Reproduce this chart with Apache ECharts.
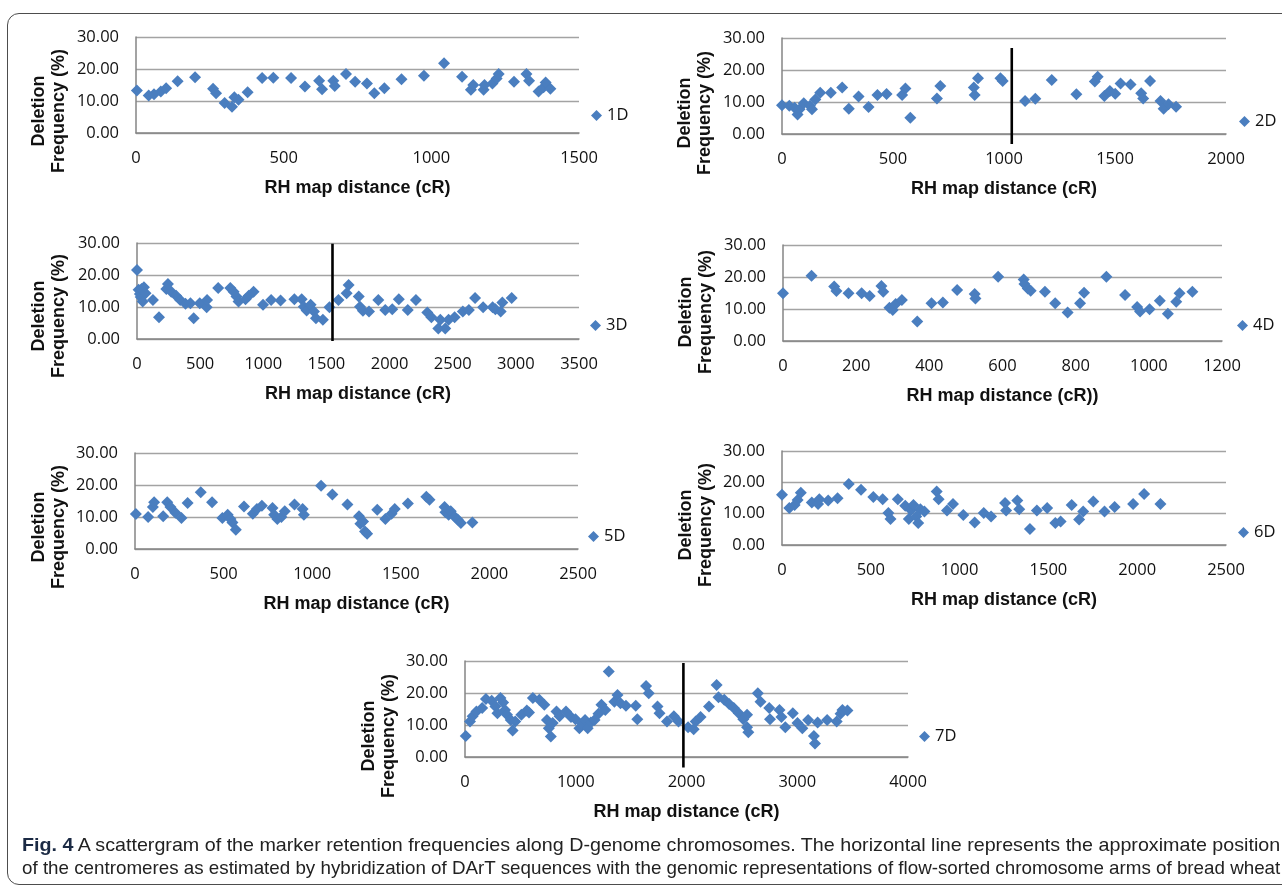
<!DOCTYPE html>
<html>
<head>
<meta charset="utf-8">
<script src="https://cdn.jsdelivr.net/npm/echarts@6/dist/echarts.min.js"></script>
<style>
    html, body { margin: 0; padding: 0; background: #fff; overflow: hidden; }
    #frame { position: absolute; left: 7px; top: 13px; width: 1320px; height: 870px;
        border: 1.5px solid #4d4d4d; border-radius: 12px; }
    #main { position: absolute; left: 0; top: 0; width: 1282px; height: 889px; }
    #caption { position: absolute; left: 22px; top: 833px; color: #222;
        font-family: "Liberation Sans", Arial, sans-serif; font-size: 19px; line-height: 23px; }
    #caption div { white-space: nowrap; transform-origin: 0 0; width: max-content; }
    #caption b { color: #1b2a44; }
</style>
</head>
<body>
<div id="frame"></div>
<div id="main"></div>
<div id="caption">
    <div id="cap1"><b>Fig. 4</b> A scattergram of the marker retention frequencies along D-genome chromosomes. The horizontal line represents the approximate position</div>
    <div id="cap2">of the centromeres as estimated by hybridization of DArT sequences with the genomic representations of flow-sorted chromosome arms of bread wheat</div>
</div>
<script>
// chromosome names, axis ranges
var names = ['1D', '2D', '3D', '4D', '5D', '6D', '7D'];
var xMax = [1500, 2000, 3500, 1200, 2500, 2500, 4000];
var xStep = [500, 500, 500, 200, 500, 500, 1000];
var yMax = 30, yStep = 10;
var xTitles = ['RH map distance (cR)', 'RH map distance (cR)', 'RH map distance (cR)', 'RH map distance (cR))',
    'RH map distance (cR)', 'RH map distance (cR)', 'RH map distance (cR)'];

// deletion frequency (%) vs RH map distance (cR)
var pts1D = [[3,13.3],[43,11.7],[61,12.1],[84,13.0],[102,14.0],[141,16.2],[200,17.4],[261,13.8],[271,12.4],[300,9.4],
    [325,8.2],[333,11.2],[347,10.4],[378,12.7],[427,17.2],[465,17.3],[525,17.2],[572,14.5],[620,16.3],[630,13.7],
    [668,16.3],[673,14.7],[711,18.4],[742,16.0],[782,15.5],[807,12.4],[841,14.0],[899,16.8],[975,17.9],[1043,21.8],
    [1104,17.6],[1134,13.5],[1142,15.0],[1177,13.5],[1180,15.0],[1207,15.5],[1221,17.0],[1228,18.4],[1280,16.0],
    [1322,18.4],[1331,16.3],[1363,13.0],[1380,14.3],[1387,15.8],[1403,13.8]];
var pts2D = [[0,9.0],[33,8.8],[57,8.2],[70,6.1],[79,7.7],[98,9.6],[126,8.8],[135,7.7],[150,10.8],[172,12.9],
    [220,12.9],[271,14.5],[301,7.9],[345,11.7],[390,8.4],[430,12.2],[471,12.5],[541,12.2],[556,14.2],[578,5.1],
    [698,11.1],[713,15.0],[864,14.5],[868,12.2],[883,17.4],[984,17.4],[994,16.6],[1095,10.3],[1141,11.0],[1215,16.9],
    [1326,12.4],[1409,16.4],[1422,17.9],[1452,11.9],[1477,13.4],[1501,12.6],[1525,15.8],[1570,15.5],[1618,12.7],
    [1627,11.1],[1658,16.6],[1705,10.3],[1719,7.9],[1741,9.3],[1775,8.5]];
var pts3D = [[0,21.6],[13,15.4],[23,14.1],[29,13.1],[36,15.6],[45,11.7],[55,16.2],[68,14.3],[126,12.2],[174,6.8],
    [232,15.6],[245,17.2],[271,14.8],[310,13.5],[342,12.2],[384,11.0],[423,11.2],[449,6.5],[497,11.2],[552,9.9],
    [555,12.2],[643,15.9],[739,15.9],[765,14.8],[788,13.3],[804,11.7],[859,12.4],[885,13.5],[923,14.8],[998,10.7],
    [1062,12.2],[1137,12.0],[1246,12.4],[1304,12.4],[1321,10.1],[1343,8.9],[1375,10.7],[1401,8.6],[1417,6.5],
    [1472,6.0],[1524,9.9],[1595,12.2],[1660,14.3],[1676,16.9],[1756,13.3],[1766,10.1],[1789,8.8],[1837,8.6],
    [1911,12.2],[1966,9.1],[2021,9.3],[2073,12.4],[2144,9.1],[2209,12.2],[2299,8.3],[2331,6.8],[2386,3.3],
    [2402,6.0],[2441,3.3],[2467,6.0],[2515,6.8],[2580,8.6],[2628,9.1],[2677,12.8],[2741,9.9],[2816,9.9],
    [2838,9.3],[2880,8.6],[2893,11.4],[2967,12.8]];
var pts4D = [[0,14.9],[78,20.4],[140,17.0],[146,15.6],[179,14.9],[215,14.9],[237,14.1],[269,17.2],[274,15.4],
    [291,10.4],[300,9.7],[308,11.6],[325,12.8],[367,6.1],[406,11.8],[437,12.0],[476,15.9],[524,14.7],[526,13.3],
    [588,20.1],[658,19.2],[660,17.8],[669,16.4],[677,15.7],[716,15.4],[744,11.8],[778,8.9],[812,11.8],[823,15.1],
    [884,20.1],[935,14.4],[968,10.6],[976,9.2],[1002,9.9],[1030,12.6],[1052,8.5],[1075,12.3],[1084,14.9],[1119,15.4]];
var pts5D = [[5,10.9],[74,10.0],[101,13.1],[108,14.6],[159,10.2],[182,14.6],[200,13.1],[228,11.3],[262,9.7],
    [297,14.4],[371,17.7],[435,14.6],[493,9.7],[523,10.7],[539,9.4],[550,8.3],[569,6.0],[615,13.3],[665,11.0],
    [688,12.5],[716,13.5],[776,12.8],[785,10.7],[803,9.4],[826,10.0],[845,11.8],[900,13.9],[946,12.5],[953,10.7],
    [1050,19.8],[1114,17.0],[1199,13.9],[1264,10.2],[1272,7.9],[1287,8.6],[1298,5.5],[1310,4.8],[1367,12.3],
    [1413,9.4],[1448,11.0],[1466,12.5],[1540,14.2],[1644,16.3],[1662,15.4],[1747,13.1],[1752,11.5],[1770,10.7],
    [1782,11.8],[1805,10.0],[1821,9.2],[1839,8.1],[1904,8.3]];
var pts6D = [[0,16.0],[41,11.8],[71,12.8],[88,14.4],[106,16.7],[168,13.6],[203,13.1],[210,14.6],[260,14.2],
    [313,14.9],[376,19.5],[445,17.6],[514,15.3],[567,14.6],[599,10.2],[611,8.3],[652,14.6],[694,12.5],[714,8.3],
    [726,11.2],[740,12.8],[756,9.1],[767,7.0],[779,11.4],[802,10.7],[871,17.1],[882,14.6],[929,11.0],[963,13.1],
    [1021,9.6],[1085,7.2],[1136,10.2],[1177,9.1],[1256,13.4],[1262,11.0],[1325,14.2],[1336,11.4],[1396,5.1],
    [1435,11.0],[1493,11.8],[1539,7.0],[1569,7.5],[1631,12.8],[1673,8.1],[1696,10.7],[1753,13.9],[1816,10.7],
    [1873,12.1],[1977,13.1],[2039,16.3],[2131,13.1]];
var pts7D = [[7,6.6],[45,11.1],[69,12.7],[103,14.2],[155,15.3],[189,18.1],[241,17.6],[275,15.8],[293,13.7],
    [320,18.4],[344,17.0],[361,14.7],[379,13.2],[413,11.6],[430,8.3],[454,11.1],[509,13.2],[558,14.5],[578,13.9],
    [613,18.4],[671,17.9],[716,16.3],[740,11.6],[757,9.0],[775,6.4],[792,10.6],[826,14.2],[854,12.7],[912,14.2],
    [957,12.5],[998,11.8],[1033,9.0],[1060,10.4],[1084,11.6],[1108,9.0],[1136,10.8],[1170,11.6],[1205,13.5],
    [1232,16.3],[1267,14.7],[1298,26.7],[1349,17.3],[1377,19.4],[1404,16.8],[1453,16.0],[1542,16.0],[1556,11.8],
    [1635,22.2],[1659,19.9],[1738,15.8],[1756,13.7],[1824,11.1],[1886,12.7],[1928,11.1],[2014,9.3],[2065,8.7],
    [2083,11.1],[2127,12.5],[2203,15.8],[2272,22.5],[2289,18.7],[2341,17.9],[2385,16.6],[2427,15.3],[2472,13.7],
    [2513,11.8],[2547,13.2],[2547,9.3],[2558,7.7],[2644,19.9],[2668,17.3],[2747,15.3],[2754,11.8],[2840,14.7],
    [2857,12.5],[2892,9.3],[2960,13.7],[3002,10.6],[3046,9.0],[3098,11.6],[3150,6.6],[3160,4.2],[3184,10.8],
    [3270,11.6],[3356,11.1],[3391,13.5],[3408,14.7],[3453,14.5]];
var allPts = [pts1D, pts2D, pts3D, pts4D, pts5D, pts6D, pts7D];

// centromere positions (vertical lines)
var cenIdx = [1, 2, 6];
var cenX = [1035, 1548, 1972];
var cenTop = [26.9, 29.8, 29.4];
var cenBottom = [-3.1, -0.6, -3.3];

// panel layout: plot box, legend position, y-title centre
var boxes = [
    {l: 136, t: 37, w: 443, h: 96, lg: [591, 107], yt: [49, 111]},
    {l: 782, t: 38, w: 444, h: 96, lg: [1239, 113], yt: [695, 113]},
    {l: 137, t: 243, w: 442, h: 96, lg: [590, 317], yt: [49, 316]},
    {l: 783, t: 245, w: 439, h: 96, lg: [1237, 317], yt: [696, 312]},
    {l: 135, t: 453, w: 443, h: 96, lg: [588, 528], yt: [49, 527]},
    {l: 782, t: 451, w: 444, h: 94, lg: [1238, 524], yt: [696, 525]},
    {l: 465, t: 661, w: 443, h: 96, lg: [919, 728], yt: [379, 736]}
];

var blue = '#4a7ebf';
var labelFont = '"Open Sans", "Liberation Sans", sans-serif';
var titleFont = '"Liberation Sans", Arial, sans-serif';

var grid = [], xAxis = [], yAxis = [], series = [], legend = [], graphic = [];
for (var i = 0; i < names.length; i++) {
    var b = boxes[i];
    grid.push({left: b.l, top: b.t, width: b.w, height: b.h, containLabel: false});
    xAxis.push({
        type: 'value', gridIndex: i, min: 0, max: xMax[i], interval: xStep[i],
        axisLine: {show: true, onZero: false, lineStyle: {color: '#858585', width: 1.5}},
        axisTick: {show: false},
        splitLine: {show: false},
        axisLabel: {color: '#111', fontSize: 16.5, fontFamily: labelFont, margin: 17,
            formatter: function (v) { return String(v); }},
        name: xTitles[i], nameLocation: 'middle', nameGap: 46,
        nameTextStyle: {color: '#111', fontSize: 18, fontWeight: 'bold', fontFamily: titleFont}
    });
    yAxis.push({
        type: 'value', gridIndex: i, min: 0, max: yMax, interval: yStep,
        axisLine: {show: true, lineStyle: {color: '#858585', width: 1.5}},
        axisTick: {show: false},
        splitLine: {show: true, lineStyle: {color: '#a3a3a3', width: 1.3}},
        axisLabel: {color: '#111', fontSize: 16.5, fontFamily: labelFont, margin: 17,
            formatter: function (v) { return v.toFixed(2); }}
    });
    series.push({
        name: names[i], type: 'scatter', xAxisIndex: i, yAxisIndex: i,
        symbol: 'diamond', symbolSize: 12, data: allPts[i],
        itemStyle: {color: blue, opacity: 1}
    });
    legend.push({
        data: [names[i]], left: b.lg[0], top: b.lg[1], icon: 'diamond',
        itemWidth: 11, itemHeight: 11, padding: 0,
        textStyle: {color: '#111', fontSize: 16.5, fontFamily: labelFont}
    });
    graphic.push({
        type: 'text', x: b.yt[0], y: b.yt[1], rotation: Math.PI / 2, silent: true,
        style: {text: 'Deletion\nFrequency (%)', align: 'center', verticalAlign: 'middle',
            fontSize: 18, fontWeight: 'bold', fontFamily: titleFont, lineHeight: 20, fill: '#111'}
    });
}
// centromere lines
for (var k = 0; k < cenIdx.length; k++) {
    var c = cenIdx[k];
    series.push({
        name: 'cen' + names[c], type: 'line', xAxisIndex: c, yAxisIndex: c,
        data: [[cenX[k], cenTop[k]], [cenX[k], cenBottom[k]]],
        symbol: 'none', clip: false, silent: true, z: 5,
        lineStyle: {color: '#000', width: 2.6}
    });
}

var myChart = echarts.init(document.getElementById('main'));
myChart.setOption({
    animation: false,
    backgroundColor: 'transparent',
    grid: grid,
    xAxis: xAxis,
    yAxis: yAxis,
    legend: legend,
    graphic: graphic,
    series: series
});

// squeeze caption lines to the frame width (condensed look)
['cap1', 'cap2'].forEach(function (id) {
    var el = document.getElementById(id);
    var nat = el.offsetWidth;
    el.style.transform = 'scaleX(' + (1258 / nat) + ')';
});
</script>
</body>
</html>
